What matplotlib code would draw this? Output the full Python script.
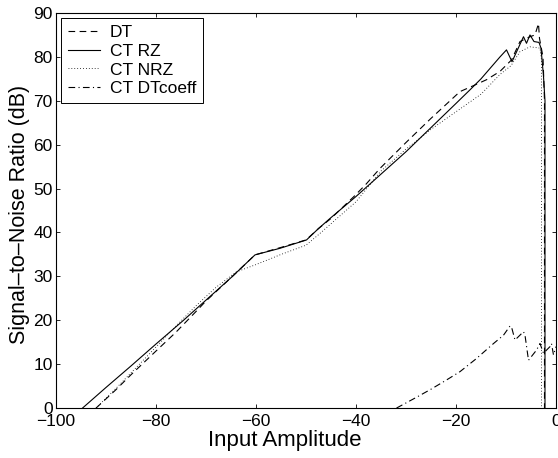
"""SNR vs input amplitude — DT / CT RZ / CT NRZ / CT DTcoeff."""
import matplotlib
matplotlib.use("Agg")
import matplotlib.pyplot as plt

plt.rcParams["font.family"] = ["Liberation Sans", "DejaVu Sans"]
plt.rcParams["font.size"] = 12

# DT (dashed)
dt_x = [-92, -88, -85, -80, -76, -72, -70, -65, -60.2, -55, -50, -47.5, -45, -40.5,
        -38, -35.2, -30, -25, -19.2, -17, -13.9, -11.2, -8.9, -7.2, -5.2, -4.2,
        -3.5, -3.3, -2.6, -2.3, -2.3]
dt_y = [0, 4.2, 7.6, 13.0, 17.3, 22.0, 24.4, 29.7, 34.9, 36.6, 38.3, 40.9, 43.2, 48.1,
        51.0, 54.6, 60.5, 66.0, 72.1, 73.2, 74.8, 76.7, 79.3, 83.5, 84.6, 85.0,
        87.6, 84.2, 80.0, 70.0, 0]

# CT RZ (solid)
rz_x = [-94.7, -90, -85, -80, -74.5, -70, -65, -60.2, -55.2, -49.9, -47.5, -45.2,
        -40, -35, -30, -25, -20, -17.2, -15, -11.2, -9.9, -8.8, -6.5, -5.9, -5.2,
        -4.4, -3.4, -3.0, -2.5, -2.2, -2.2]
rz_y = [0, 4.7, 9.6, 14.6, 20.0, 24.6, 29.7, 34.9, 36.4, 38.3, 40.9, 43.2,
        48.2, 53.3, 58.4, 63.9, 69.4, 72.5, 75.0, 80.0, 81.6, 78.9, 84.6, 83.1, 85.0,
        83.5, 83.3, 82.0, 75.6, 70.0, 0]

# CT NRZ (dotted)
nrz_x = [-92, -88, -84, -80, -76, -72, -68, -64, -60.2, -55, -50, -47.5, -45, -40,
         -35, -30, -25, -20, -15, -11.2, -9, -7.2, -5.2, -3.2, -2.9, -2.9]
nrz_y = [0, 4.5, 9.2, 13.9, 18.7, 23.3, 27.5, 31.0, 32.6, 35.0, 37.1, 39.5, 42.0, 47.0,
         54.0, 59.0, 63.5, 67.5, 71.5, 76.0, 78.0, 81.2, 82.3, 82.0, 79.3, 0]

# CT DTcoeff (dash-dot)
dtc_x = [-31.9, -28, -25, -21.9, -19.2, -16, -12.5, -10.5, -9.2, -8.9, -8.2, -6.5,
         -6.2, -5.5, -3.9, -3.2, -2.5, -1.2, -0.9, -0.5, 0]
dtc_y = [0, 2.4, 4.3, 6.4, 8.3, 11.2, 14.7, 16.6, 18.7, 18.5, 15.5, 17.4,
         16.6, 10.9, 13.2, 14.7, 12.5, 14.0, 14.7, 12.1, 14.0]

x_ticks = [-100, -80, -60, -40, -20, 0]
y_ticks = [0, 10, 20, 30, 40, 50, 60, 70, 80, 90]

fig = plt.figure(figsize=(5.58, 4.58), dpi=100)
ax = fig.add_axes([0.1004, 0.109, 0.896, 0.8626])

lw = 0.8
ax.plot(dt_x, dt_y, color="black", linestyle=(0, (6, 4)), linewidth=lw, label="DT")
ax.plot(rz_x, rz_y, color="black", linestyle="-", linewidth=lw, label="CT RZ")
ax.plot(nrz_x, nrz_y, color="black", linestyle=(0, (1, 2.5)), linewidth=0.6, label="CT NRZ")
ax.plot(dtc_x, dtc_y, color="black", linestyle=(0, (6, 3, 1, 3)), linewidth=lw, label="CT DTcoeff")

ax.set_xlim(-100, 0)
ax.set_ylim(0, 90)
ax.set_xticks(x_ticks)
ax.set_yticks(y_ticks)
ax.set_xticklabels([str(t).replace("-", "\u2212") for t in x_ticks])
ax.tick_params(direction="in", top=True, right=True, length=3, width=0.6,
               labelsize=12.5, pad=2.5)
ax.tick_params(axis="x", pad=4)
for s in ax.spines.values():
    s.set_linewidth(0.8)

# axis labels are drawn larger than the tick labels in the original
ax.set_xlabel("Input Amplitude", fontsize=16)
ax.set_ylabel("Signal\u2013to\u2013Noise Ratio (dB)", fontsize=15.5)
ax.xaxis.set_label_coords(0.457, -0.056)
ax.yaxis.set_label_coords(-0.052, 0.49)

leg = ax.legend(loc="upper left", fancybox=False, edgecolor="black", framealpha=1,
                fontsize=12.5, borderaxespad=0.3, handlelength=1.85, handletextpad=0.55,
                labelspacing=0.2, borderpad=0.4)
leg.get_frame().set_linewidth(0.7)

fig.savefig("out.png", dpi=100)
plt.close(fig)
